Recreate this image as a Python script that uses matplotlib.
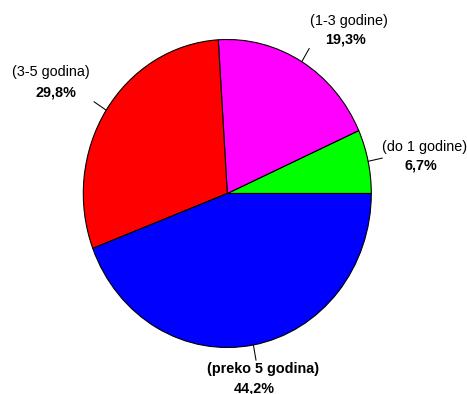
import numpy as np
import matplotlib
matplotlib.use("Agg")
import matplotlib.pyplot as plt

plt.rcParams['font.family'] = ['Liberation Sans', 'DejaVu Sans']

categories = ["(do 1 godine)", "(1-3 godine)", "(3-5 godina)", "(preko 5 godina)"]
shares = [6.7, 19.3, 29.8, 44.2]
colors = ["#00FF00", "#FF00FF", "#FF0000", "#0000FF"]

# label offsets from the end of each leader line, in pixels: (name line, percent line)
name_offsets = [(42, 11), (40, 28), (-43, 30), (7, -9)]
pct_offsets = [(39, -7), (36, 9), (-38, 9), (-2, -28)]
name_bold = [False, False, False, True]

W, H = 467, 394
cx, cy = 227.3, 193.5      # pie centre in pixels (from top-left)
rx, ry = 144.0, 154.0      # pie radii in pixels

fig = plt.figure(figsize=(W / 100, H / 100), dpi=100)
ax = fig.add_axes([0, 0, 1, 1])

wedges, _ = ax.pie(shares, colors=colors, startangle=0, counterclock=True,
                   wedgeprops=dict(edgecolor="black", linewidth=0.8))
ax.set_aspect("auto")
ax.set_xlim(-cx / rx, (W - cx) / rx)
ax.set_ylim(-(H - cy) / ry, cy / ry)
ax.axis("off")

for w, name, val, no, po, bold in zip(wedges, categories, shares,
                                      name_offsets, pct_offsets, name_bold):
    mid = np.deg2rad((w.theta1 + w.theta2) / 2)
    x0, y0 = np.cos(mid), np.sin(mid)
    x1, y1 = 1.1 * x0, 1.1 * y0
    ax.plot([x0, x1], [y0, y1], color="black", lw=0.75)
    ax.annotate(name, xy=(x1, y1), xytext=no, textcoords="offset pixels",
                ha="center", va="center", fontsize=10.4,
                fontweight="bold" if bold else "normal")
    pct = f"{val:.1f}".replace(".", ",") + "%"
    ax.annotate(pct, xy=(x1, y1), xytext=po, textcoords="offset pixels",
                ha="center", va="center", fontsize=10.4, fontweight="bold")

fig.savefig("out.png", dpi=100)
